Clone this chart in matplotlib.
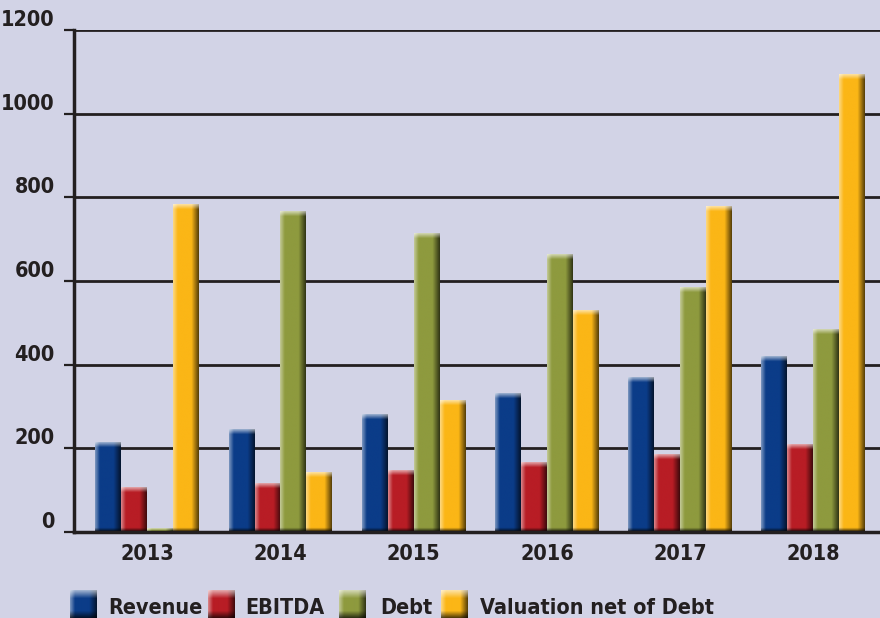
import numpy as np
import matplotlib
matplotlib.use("Agg")
import matplotlib.pyplot as plt
from matplotlib.colors import to_rgb

plt.rcParams['font.family'] = ['DejaVu Sans']
plt.rcParams['font.stretch'] = 'condensed'
plt.rcParams['font.weight'] = 'bold'

years = ['2013', '2014', '2015', '2016', '2017', '2018']
revenue = [215, 244, 280, 330, 370, 420]
ebitda = [107, 117, 146, 165, 186, 210]
debt = [8, 765, 714, 664, 585, 485]
valuation = [782, 143, 315, 530, 779, 1094]

series_names = ['Revenue', 'EBITDA', 'Debt', 'Valuation net of Debt']
series_values = [revenue, ebitda, debt, valuation]
colors = ['#0b3c88', '#b81d25', '#8e9a3e', '#fbb616']

bg = '#d2d3e6'
ink = '#231f20'


def shade_image(color, h, cap, foot, nx=40):
    """RGB image for a bar with a glassy 3D look (rows from bottom to top)."""
    base = np.array(to_rgb(color))
    ny = max(int(np.ceil(h)), 4)
    xs = np.linspace(0, 1, nx)
    # horizontal light -> base -> dark
    light = base + (1 - base) * 0.45
    dark = base * 0.35
    prof = np.empty((nx, 3))
    for i, t in enumerate(xs):
        if t < 0.18:
            f = t / 0.18
            prof[i] = light * (1 - f) + base * f
        elif t < 0.72:
            prof[i] = base
        else:
            f = (t - 0.72) / 0.28
            prof[i] = base * (1 - f) + dark * f
    img = np.repeat(prof[None, :, :], ny, axis=0)
    vals = np.linspace(0, h, ny)
    for j, v in enumerate(vals):
        if v > h - cap:
            f = min((v - (h - cap)) / cap, 1.0)
            img[j] = img[j] * (1 - 0.6 * f) + 0.6 * f
        elif v < foot:
            f = 1 - v / foot
            img[j] = img[j] * (1 - 0.85 * f)
    return np.clip(img, 0, 1)


fig = plt.figure(figsize=(8.8, 6.18), dpi=100)
fig.patch.set_facecolor(bg)
ax = fig.add_axes([74 / 880, 1 - 532 / 618, 806 / 880, 502 / 618])
ax.set_facecolor(bg)

width = 0.195
x = np.arange(len(years))
ax.set_yticks(np.arange(0, 1201, 200))
ax.yaxis.grid(True, color=ink, linewidth=2)
ax.set_axisbelow(True)

for k, (vals, col) in enumerate(zip(series_values, colors)):
    offs = (k - 1.5) * width
    for xi, v in zip(x, vals):
        x0 = xi + offs - width / 2
        img = shade_image(col, v, min(12, v * 0.6), min(10, v * 0.3))
        ax.imshow(img, extent=(x0, x0 + width, 0, v), origin='lower',
                  aspect='auto', interpolation='bilinear', zorder=3)

ax.set_ylim(0, 1200)
ax.set_xlim(-0.55, len(years) - 0.5)
ax.set_aspect('auto')

ax.set_xticks(x)
ax.set_xticklabels(years)
for s in ['top', 'right']:
    ax.spines[s].set_visible(False)
ax.spines['left'].set_color(ink)
ax.spines['left'].set_linewidth(2.5)
ax.spines['bottom'].set_color(ink)
ax.spines['bottom'].set_linewidth(2.5)
ax.spines['bottom'].set_zorder(5)
ax.tick_params(axis='y', direction='out', length=7, width=1.6, color=ink,
               labelsize=15.5, labelcolor=ink, pad=7)
ax.tick_params(axis='x', length=0, labelsize=15.5, labelcolor=ink, pad=9)
for lbl in ax.get_yticklabels():
    lbl.set_verticalalignment('bottom')

# legend drawn in pixel space along the bottom edge
lax = fig.add_axes([0, 0, 1, 1], zorder=10)
lax.axis('off')
patch_x = [70, 208, 339, 441]
text_x = [108, 245, 380, 480]
for name, col, px, tx in zip(series_names, colors, patch_x, text_x):
    img = shade_image(col, 30, 8, 9)
    lax.imshow(img, extent=(px, px + 27, 620, 590), origin='lower',
               aspect='auto', interpolation='bilinear')
    lax.text(tx, 598, name, fontsize=15.5, color=ink, va='top', ha='left')
lax.set_xlim(0, 880)
lax.set_ylim(618, 0)

fig.savefig('out.png', dpi=100, facecolor=bg)
